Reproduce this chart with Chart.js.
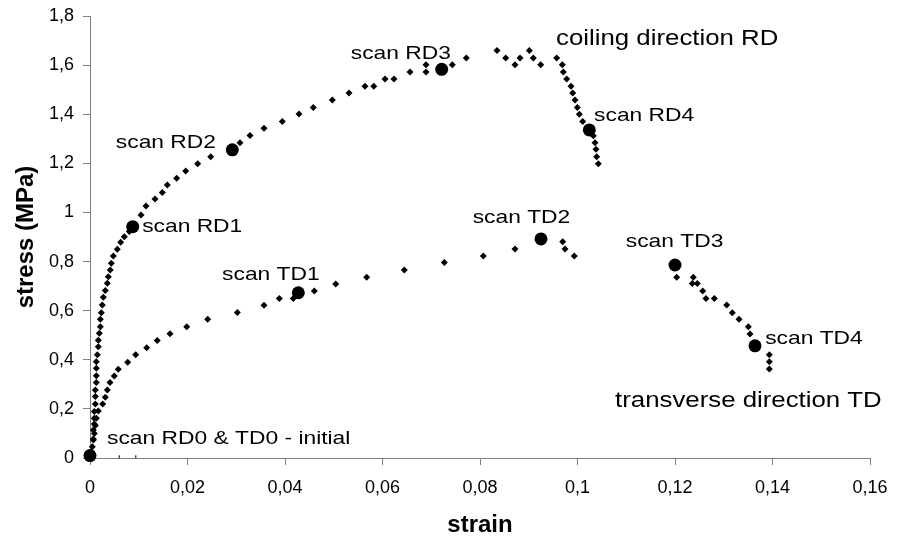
<!DOCTYPE html>
<html>
<head>
<meta charset="utf-8">
<script src="https://cdn.jsdelivr.net/npm/chart.js@4.4.1/dist/chart.umd.min.js"></script>
<style>
  html, body { margin: 0; padding: 0; background: #fff; }
  #wrap { width: 904px; height: 544px; position: relative; }
</style>
</head>
<body>
<div id="wrap"><canvas id="chart"></canvas></div>
<script>
// rolling direction (RD) test
const rdStrain = [0.00047, 0.00068, 0.00068, 0.00088, 0.00088, 0.00088, 0.00109, 0.00109, 0.00109, 0.00129,
  0.00129, 0.00129, 0.00129, 0.0015, 0.0017, 0.0017, 0.00191, 0.00211, 0.00211, 0.00232,
  0.00252, 0.00273, 0.00314, 0.00355, 0.00375, 0.00416, 0.00437, 0.00478, 0.0056, 0.0063,
  0.00704, 0.00806, 0.01046, 0.01149, 0.01333, 0.01483, 0.01586, 0.01778, 0.01963, 0.02209,
  0.02476, 0.03077, 0.03282, 0.03569, 0.03945, 0.04287, 0.0458, 0.0497, 0.05313, 0.05641,
  0.0582, 0.06051, 0.06236, 0.06564, 0.06892, 0.06892, 0.07432, 0.07719, 0.08349, 0.08527,
  0.08718, 0.08821, 0.09011, 0.09093, 0.09245, 0.09573, 0.09688, 0.09709, 0.09778, 0.09867,
  0.09902, 0.09949, 0.09996, 0.10037, 0.10107, 0.10324, 0.10359, 0.10379, 0.10394, 0.10427];
const rdStress = [0.046, 0.077, 0.114, 0.138, 0.162, 0.189, 0.22, 0.25, 0.277, 0.307,
  0.335, 0.365, 0.392, 0.42, 0.453, 0.48, 0.508, 0.535, 0.565, 0.592,
  0.623, 0.655, 0.682, 0.712, 0.738, 0.766, 0.793, 0.823, 0.85, 0.879,
  0.901, 0.922, 0.99, 1.026, 1.055, 1.081, 1.112, 1.139, 1.169, 1.198,
  1.227, 1.284, 1.313, 1.343, 1.37, 1.401, 1.427, 1.458, 1.486, 1.514,
  1.514, 1.543, 1.543, 1.572, 1.572, 1.601, 1.601, 1.629, 1.659, 1.629,
  1.601, 1.629, 1.659, 1.629, 1.601, 1.629, 1.601, 1.572, 1.543, 1.514,
  1.486, 1.458, 1.427, 1.4, 1.37, 1.312, 1.284, 1.257, 1.227, 1.198];

// transverse direction (TD) test
const tdStrain = [0.00068, 0.00088, 0.00109, 0.00129, 0.0017, 0.0026, 0.00314, 0.00355, 0.0041, 0.00498,
  0.0058, 0.00773, 0.00937, 0.01163, 0.0138, 0.01641, 0.01984, 0.02414, 0.03022, 0.03569,
  0.03883, 0.0417, 0.04601, 0.0504, 0.05676, 0.06447, 0.07268, 0.08068, 0.08718, 0.09696,
  0.09744, 0.09934, 0.12035, 0.12376, 0.12355, 0.12458, 0.12568, 0.12636, 0.12806, 0.1306,
  0.13175, 0.13313, 0.13504, 0.13538, 0.13935, 0.13935, 0.13935];
const tdStress = [0.073, 0.1, 0.132, 0.162, 0.191, 0.22, 0.247, 0.277, 0.307, 0.334,
  0.361, 0.39, 0.42, 0.449, 0.478, 0.506, 0.535, 0.565, 0.593, 0.622,
  0.65, 0.65, 0.68, 0.709, 0.736, 0.766, 0.796, 0.823, 0.851, 0.881,
  0.851, 0.823, 0.736, 0.736, 0.711, 0.711, 0.68, 0.65, 0.65, 0.623,
  0.592, 0.565, 0.535, 0.505, 0.42, 0.392, 0.362];

// scan points
const scanNames = ['RD0 & TD0', 'RD1', 'RD2', 'RD3', 'RD4', 'TD1', 'TD2', 'TD3', 'TD4'];
const scanStrain = [0, 0.00876, 0.02919, 0.07214, 0.10242, 0.04273, 0.09251, 0.12, 0.13641];
const scanStress = [0.01, 0.942, 1.255, 1.583, 1.336, 0.673, 0.892, 0.786, 0.457];

// two stray readings near the origin
const strayStrain = [0.006, 0.0094];
const strayStress = [0.005, 0.005];

const xTicks = { min: 0, max: 0.16, step: 0.02 };
const yTicks = { min: 0, max: 1.8, step: 0.2 };

// text notes, anchored at (strain, stress) of their baseline start
const notes = [
  { text: 'scan RD0 & TD0 - initial', x: 0.0035, y: 0.057, size: 19 },
  { text: 'scan RD1', x: 0.0107, y: 0.922, size: 19 },
  { text: 'scan RD2', x: 0.0053, y: 1.262, size: 19 },
  { text: 'scan RD3', x: 0.0535, y: 1.624, size: 19 },
  { text: 'coiling direction RD', x: 0.0956, y: 1.682, size: 21.5 },
  { text: 'scan RD4', x: 0.1034, y: 1.374, size: 19 },
  { text: 'scan TD1', x: 0.0271, y: 0.725, size: 19 },
  { text: 'scan TD2', x: 0.0785, y: 0.958, size: 19 },
  { text: 'scan TD3', x: 0.1099, y: 0.861, size: 19 },
  { text: 'scan TD4', x: 0.1385, y: 0.464, size: 19 },
  { text: 'transverse direction TD', x: 0.1077, y: 0.209, size: 21.5 }
];

const pts = (xs, ys) => xs.map((v, i) => ({ x: v, y: ys[i] }));
const comma = v => String(parseFloat(v.toFixed(4))).replace('.', ',');
const FONT = '"Liberation Sans", Arial, sans-serif';

const notePlugin = {
  id: 'notes',
  afterDatasetsDraw(chart) {
    const { ctx, scales: { x, y } } = chart;
    ctx.save();
    ctx.fillStyle = '#000';
    ctx.textAlign = 'left';
    ctx.textBaseline = 'alphabetic';
    notes.forEach(n => {
      ctx.save();
      ctx.font = n.size + 'px ' + FONT;
      ctx.translate(x.getPixelForValue(n.x), y.getPixelForValue(n.y));
      ctx.scale(1.2, 1); // the original text is a bit wider than Arial
      ctx.fillText(n.text, 0, 0);
      ctx.restore();
    });
    ctx.restore();
  }
};

const axisColor = '#808080';

new Chart(document.getElementById('chart'), {
  type: 'scatter',
  data: {
    datasets: [
      {
        label: 'scans',
        data: pts(scanStrain, scanStress),
        pointStyle: 'circle',
        pointRadius: 6.5,
        backgroundColor: '#000',
        borderWidth: 0,
        clip: false
      },
      {
        label: 'RD',
        data: pts(rdStrain, rdStress),
        pointStyle: 'rectRot',
        pointRadius: 3.5,
        backgroundColor: '#000',
        borderWidth: 0,
        clip: false
      },
      {
        label: 'TD',
        data: pts(tdStrain, tdStress),
        pointStyle: 'rectRot',
        pointRadius: 3.5,
        backgroundColor: '#000',
        borderWidth: 0,
        clip: false
      },
      {
        label: 'stray',
        data: pts(strayStrain, strayStress),
        pointStyle: 'line',
        rotation: 90,
        pointRadius: 1.5,
        borderColor: '#000',
        borderWidth: 1,
        clip: false
      }
    ]
  },
  options: {
    responsive: true,
    maintainAspectRatio: false,
    animation: false,
    layout: { padding: { top: 16, right: 34, left: 0, bottom: 0 } },
    plugins: { legend: { display: false }, tooltip: { enabled: false } },
    scales: {
      x: {
        type: 'linear',
        min: xTicks.min,
        max: xTicks.max,
        border: { color: axisColor, width: 1 },
        grid: { drawOnChartArea: false, drawTicks: true, tickLength: 7, color: axisColor },
        ticks: {
          stepSize: xTicks.step,
          autoSkip: false,
          maxRotation: 0,
          color: '#000',
          padding: 12,
          font: { family: FONT, size: 18 },
          callback: v => comma(v)
        },
        title: {
          display: true,
          text: 'strain',
          color: '#000',
          font: { family: FONT, size: 24, weight: 'bold' },
          padding: { top: 0, bottom: 4 }
        },
        afterFit(s) { s.height = 86; }
      },
      y: {
        type: 'linear',
        min: yTicks.min,
        max: yTicks.max,
        border: { color: axisColor, width: 1 },
        grid: { drawOnChartArea: false, drawTicks: true, tickLength: 7, color: axisColor },
        ticks: {
          stepSize: yTicks.step,
          autoSkip: false,
          color: '#000',
          padding: 9,
          font: { family: FONT, size: 18 },
          callback: v => comma(v)
        },
        title: {
          display: true,
          text: 'stress (MPa)',
          color: '#000',
          font: { family: FONT, size: 24, weight: 'bold' },
          padding: { top: 12, bottom: 0 }
        },
        afterFit(s) {
          s.width = 90;
          s.paddingTop = 0; // let the layout padding alone set the top edge
        }
      }
    }
  },
  plugins: [notePlugin]
});
</script>
</body>
</html>
